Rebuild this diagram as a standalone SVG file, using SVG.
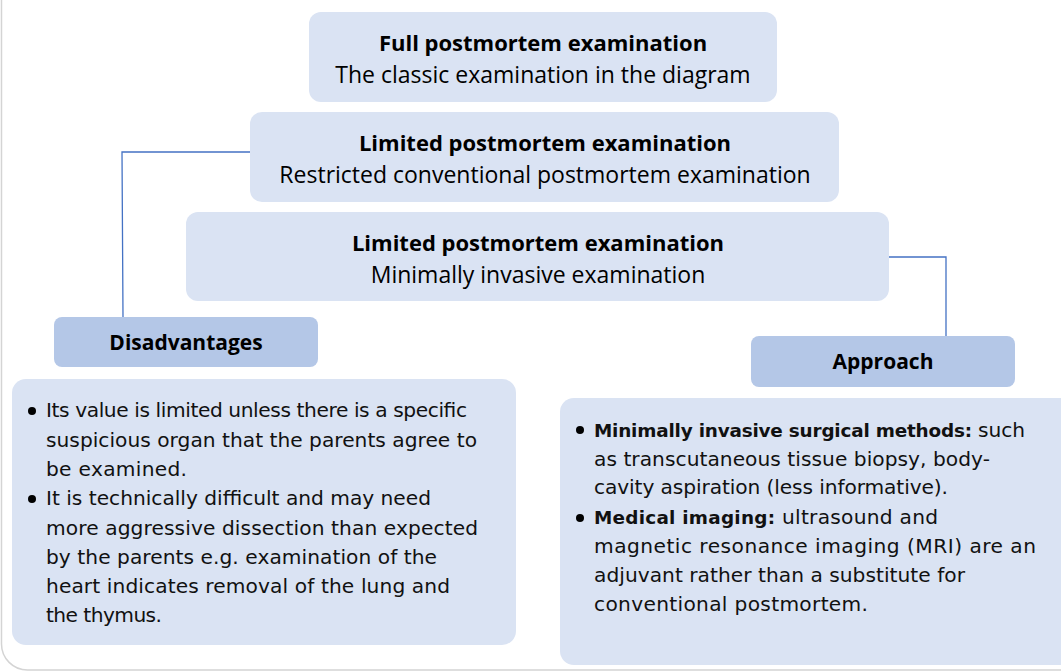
<svg xmlns="http://www.w3.org/2000/svg" width="1061" height="672" viewBox="0 0 1061 672">
  <style>
    .tier { fill: #dae3f3; }
    .head { fill: #b4c7e7; }
    .list { fill: #dae3f3; }
    .wire { fill: none; stroke: #4472c4; stroke-width: 1.3; }
    .t { font-family: "Open Sans", "Liberation Sans", sans-serif; font-size: 23px; fill: #000; text-anchor: middle; }
    .tb { font-weight: bold; font-size: 22px; }
    .lbl { font-family: "Open Sans", "Liberation Sans", sans-serif; font-size: 21px; font-weight: bold; fill: #000; text-anchor: middle; }
    .bl { font-family: "DejaVu Sans", "Liberation Sans", sans-serif; font-size: 20.2px; fill: #111; }
    .b { font-weight: bold; font-size: 18.4px; }
  </style>

  <rect width="1061" height="672" fill="#fff"/>
  <!-- outer frame -->
  <rect x="1.5" y="-40" width="1100" height="710" rx="26" fill="none" stroke="#d4d4d4" stroke-width="1.5"/>

  <!-- connectors -->
  <g id="connectors">
    <polyline class="wire" points="250,152 122,152 123,317"/>
    <polyline class="wire" points="889,257 946,257 946,336"/>
  </g>

  <g id="full-pm">
    <rect class="tier" x="309" y="12" width="468" height="90" rx="12"/>
    <text class="t tb" x="543" y="51">Full postmortem examination</text>
    <text class="t" x="543" y="83">The classic examination in the diagram</text>
  </g>

  <g id="limited-conventional">
    <rect class="tier" x="250" y="112" width="589" height="90" rx="12"/>
    <text class="t tb" x="545" y="151">Limited postmortem examination</text>
    <text class="t" x="545" y="183">Restricted conventional postmortem examination</text>
  </g>

  <g id="limited-minimal">
    <rect class="tier" x="186" y="212" width="703" height="89" rx="12"/>
    <text class="t tb" x="538" y="251">Limited postmortem examination</text>
    <text class="t" x="538" y="283">Minimally invasive examination</text>
  </g>

  <g id="disadvantages">
    <rect class="head" x="54" y="317" width="264" height="50" rx="8"/>
    <text class="lbl" x="186" y="350">Disadvantages</text>
  </g>

  <g id="approach">
    <rect class="head" x="751" y="336" width="264" height="51" rx="8"/>
    <text class="lbl" x="883" y="369">Approach</text>
  </g>

  <g id="disadvantages-list">
    <rect class="list" x="12" y="379" width="504" height="266" rx="14"/>
    <circle cx="32" cy="411" r="4" fill="#000"/>
    <circle cx="32" cy="499" r="4" fill="#000"/>
    <text class="bl" x="46" y="417" textLength="421" lengthAdjust="spacing">Its value is limited unless there is a specific</text>
    <text class="bl" x="46" y="447" textLength="431" lengthAdjust="spacing">suspicious organ that the parents agree to</text>
    <text class="bl" x="46" y="476" textLength="141" lengthAdjust="spacing">be examined.</text>
    <text class="bl" x="46" y="505" textLength="385" lengthAdjust="spacing">It is technically difficult and may need</text>
    <text class="bl" x="46" y="535" textLength="432" lengthAdjust="spacing">more aggressive dissection than expected</text>
    <text class="bl" x="46" y="564" textLength="391" lengthAdjust="spacing">by the parents e.g. examination of the</text>
    <text class="bl" x="46" y="593" textLength="404" lengthAdjust="spacing">heart indicates removal of the lung and</text>
    <text class="bl" x="46" y="622" textLength="116" lengthAdjust="spacing">the thymus.</text>
  </g>

  <g id="approach-list">
    <rect class="list" x="560" y="398" width="515" height="267" rx="14"/>
    <circle cx="580" cy="430" r="4" fill="#000"/>
    <circle cx="580" cy="518" r="4" fill="#000"/>
    <text class="bl b" x="594" y="437" textLength="378" lengthAdjust="spacing">Minimally invasive surgical methods:</text>
    <text class="bl" x="978" y="437" textLength="47" lengthAdjust="spacing">such</text>
    <text class="bl" x="594" y="466" textLength="396" lengthAdjust="spacing">as transcutaneous tissue biopsy, body-</text>
    <text class="bl" x="594" y="494" textLength="354" lengthAdjust="spacing">cavity aspiration (less informative).</text>
    <text class="bl b" x="594" y="524" textLength="181" lengthAdjust="spacing">Medical imaging:</text>
    <text class="bl" x="782" y="524" textLength="156" lengthAdjust="spacing">ultrasound and</text>
    <text class="bl" x="594" y="553" textLength="442" lengthAdjust="spacing">magnetic resonance imaging (MRI) are an</text>
    <text class="bl" x="594" y="582" textLength="371" lengthAdjust="spacing">adjuvant rather than a substitute for</text>
    <text class="bl" x="594" y="611" textLength="274" lengthAdjust="spacing">conventional postmortem.</text>
  </g>
</svg>
